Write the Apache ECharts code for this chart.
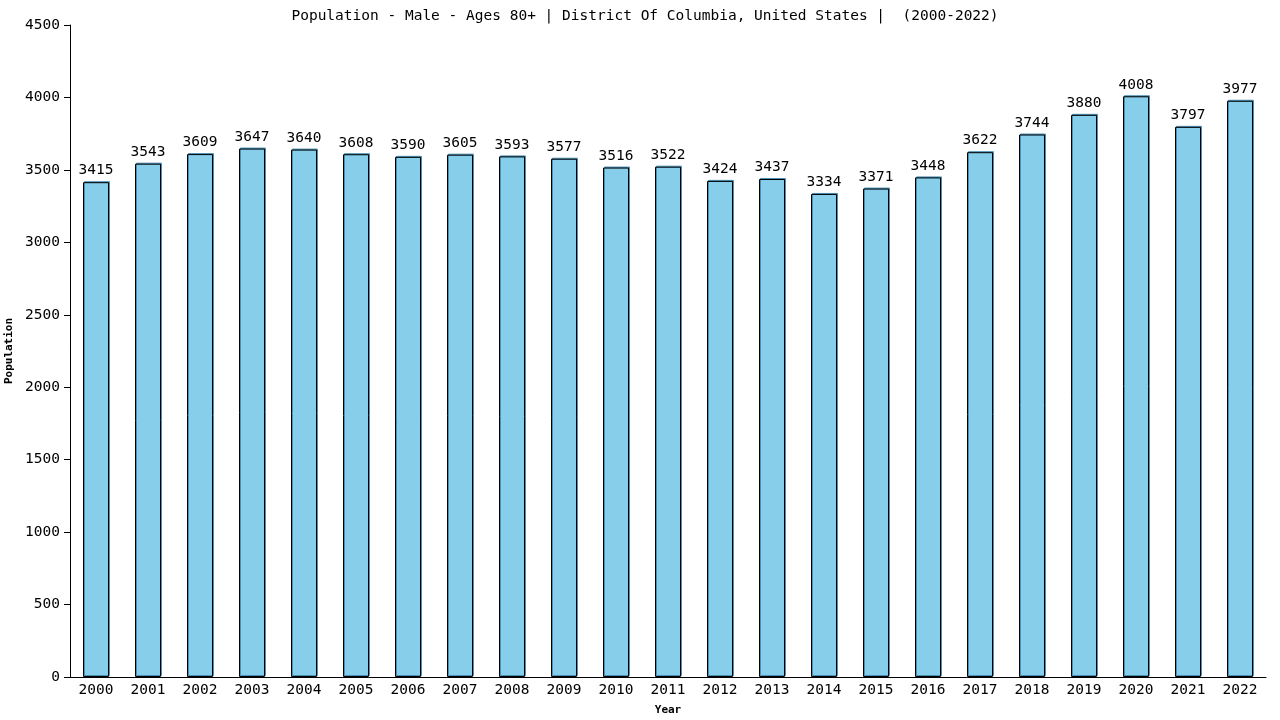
<!DOCTYPE html>
<html><head><meta charset="utf-8">
<script src="https://cdn.jsdelivr.net/npm/echarts@6/dist/echarts.min.js"></script>
<style>html,body{margin:0;padding:0;background:#fff}#c{width:1280px;height:720px}</style>
</head><body><div id="c"></div>
<script>
const years = ["2000","2001","2002","2003","2004","2005","2006","2007","2008","2009","2010","2011","2012","2013","2014","2015","2016","2017","2018","2019","2020","2021","2022"];
const population = [3415,3543,3609,3647,3640,3608,3590,3605,3593,3577,3516,3522,3424,3437,3334,3371,3448,3622,3744,3880,4008,3797,3977];
const titleText = "Population - Male - Ages 80+ | District Of Columbia, United States |  (2000-2022)";
const font = "DejaVu Sans Mono";
const chart = echarts.init(document.getElementById('c'));
chart.setOption({
  animation:false,
  title:{text:titleText,left:640,top:4,textAlign:'center',textStyle:{fontFamily:font,fontSize:14.5,fontWeight:'normal',color:'#000'}},
  grid:{left:70,right:14,top:25,bottom:43,containLabel:false,outerBoundsMode:'none'},
  xAxis:{type:'category',data:years,name:'Year',nameLocation:'middle',nameGap:28,
    nameTextStyle:{fontFamily:font,fontSize:11,fontWeight:'bold',color:'#000'},
    axisLine:{lineStyle:{color:'#000',width:1}},axisTick:{show:false},
    axisLabel:{fontFamily:font,fontSize:14.5,color:'#000',margin:6}},
  yAxis:{type:'value',min:0,max:4500,interval:500,name:'Population',nameLocation:'middle',nameGap:52,
    nameTextStyle:{fontFamily:font,fontSize:11,fontWeight:'bold',color:'#000'},
    axisLine:{show:true,lineStyle:{color:'#000',width:1}},axisTick:{show:true,length:6,lineStyle:{color:'#000'}},
    splitLine:{show:false},
    axisLabel:{fontFamily:font,fontSize:14.5,color:'#000',margin:10,formatter:v=>String(v)}},
  series:[{type:'bar',data:population,barWidth:'50%',
    itemStyle:{color:'#87ceeb',borderColor:'#000',borderWidth:1,shadowColor:'#4a8fb5',shadowOffsetX:1,shadowOffsetY:-1,shadowBlur:0},
    label:{show:true,position:'top',distance:4,fontFamily:font,fontSize:14.5,color:'#000'}}]
});
</script></body></html>
